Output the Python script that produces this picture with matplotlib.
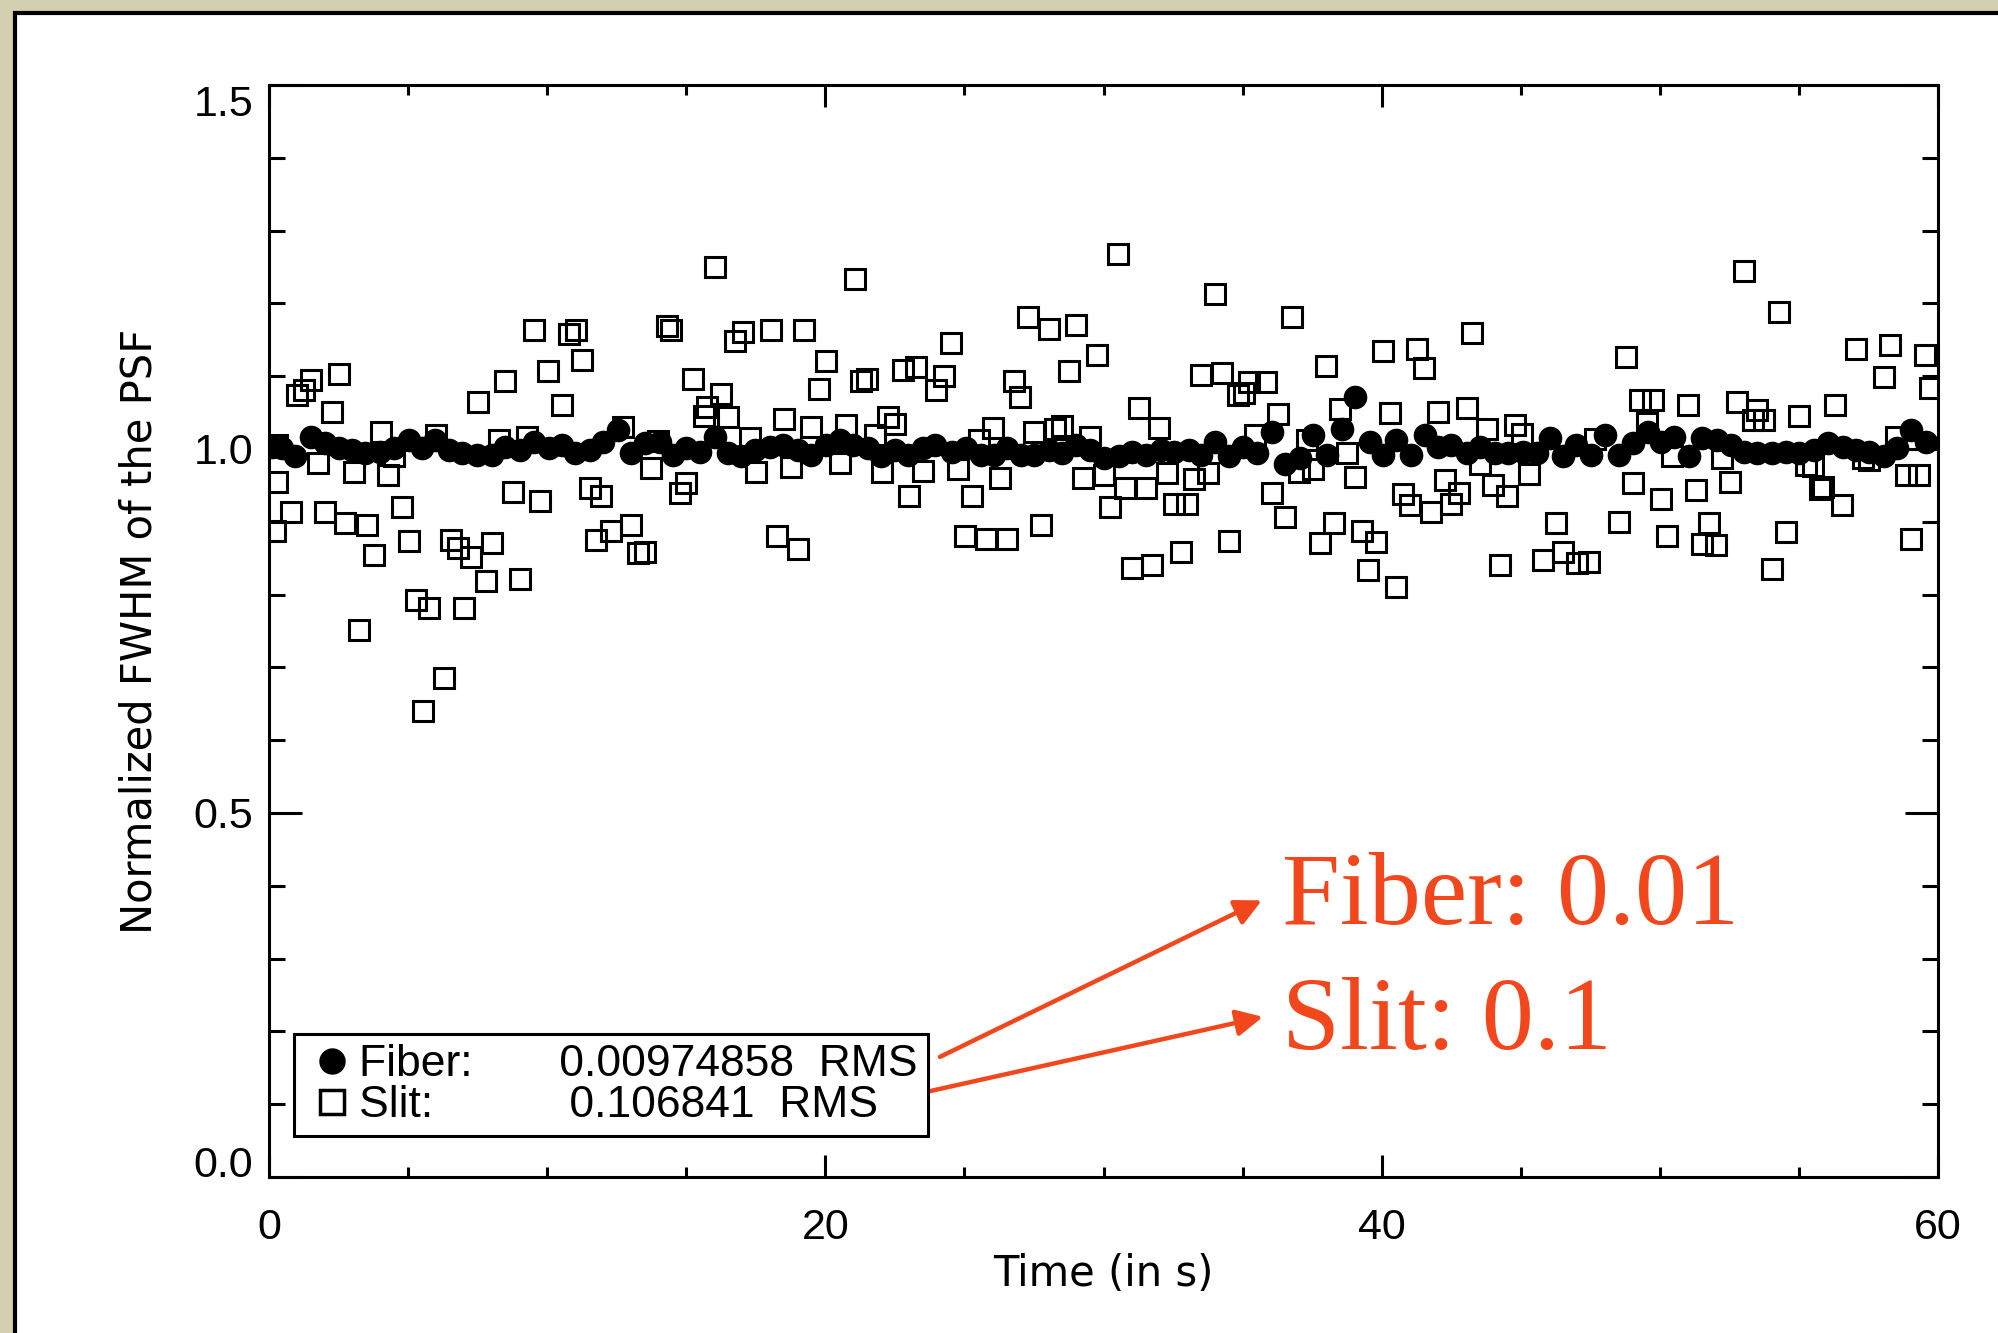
import matplotlib
matplotlib.use("Agg")
import matplotlib.pyplot as plt
from matplotlib.lines import Line2D
from matplotlib.patches import Rectangle
from matplotlib.ticker import MultipleLocator, FormatStrFormatter

# fiber PSF width, normalized (filled circles)
fiber_t = [0.11, 0.47, 0.95, 1.52, 2.02, 2.50, 2.98, 3.46, 4.00, 4.48, 5.02, 5.50,
           5.98, 6.46, 6.94, 7.48, 8.02, 8.50, 9.03, 9.51, 10.05, 10.53, 11.01, 11.55,
           12.00, 12.54, 13.02, 13.50, 14.04, 14.52, 15.00, 15.48, 16.02, 16.50, 16.98, 17.46,
           18.00, 18.48, 19.00, 19.49, 20.03, 20.51, 20.99, 21.53, 22.01, 22.49, 22.97, 23.51,
           23.93, 24.56, 25.04, 25.58, 26.06, 26.54, 27.02, 27.49, 28.03, 28.51, 29.00, 29.53,
           30.01, 30.55, 31.03, 31.51, 32.05, 32.53, 33.07, 33.49, 34.02, 34.50, 35.00, 35.52,
           36.06, 36.52, 37.06, 37.54, 38.02, 38.56, 39.04, 39.57, 40.05, 40.53, 41.07, 41.55,
           42.03, 42.51, 43.05, 43.53, 44.07, 44.55, 45.09, 45.57, 46.04, 46.52, 47.00, 47.54,
           48.02, 48.54, 49.02, 49.56, 50.04, 50.52, 51.06, 51.53, 52.07, 52.55, 53.03, 53.51,
           54.05, 54.53, 55.01, 55.55, 56.03, 56.57, 57.05, 57.53, 58.06, 58.54, 59.02, 59.56]
fiber_v = [1.003, 1.001, 0.990, 1.017, 1.008, 1.002, 0.998, 0.994, 0.996, 1.001, 1.012, 1.001,
           1.012, 0.999, 0.994, 0.992, 0.992, 1.003, 0.999, 1.010, 1.001, 1.006, 0.994, 0.999,
           1.010, 1.026, 0.994, 1.008, 1.010, 0.992, 1.001, 0.996, 1.017, 0.994, 0.990, 0.999,
           1.003, 1.006, 0.999, 0.992, 1.006, 1.012, 1.006, 1.001, 0.990, 0.999, 0.992, 1.001,
           1.006, 0.996, 1.001, 0.992, 0.992, 1.001, 0.992, 0.992, 0.999, 0.994, 1.006, 0.999,
           0.987, 0.990, 0.996, 0.992, 0.999, 0.996, 0.999, 0.992, 1.010, 0.990, 1.003, 0.994,
           1.024, 0.980, 0.987, 1.019, 0.992, 1.028, 1.071, 1.010, 0.992, 1.012, 0.992, 1.019,
           1.003, 1.006, 0.994, 1.003, 0.994, 0.994, 0.996, 0.994, 1.015, 0.990, 1.006, 0.992,
           1.019, 0.992, 1.008, 1.024, 1.010, 1.017, 0.990, 1.015, 1.012, 1.006, 0.996, 0.994,
           0.994, 0.996, 0.994, 0.999, 1.008, 1.003, 0.999, 0.996, 0.990, 1.001, 1.026, 1.010]

# slit PSF width, normalized (open squares)
slit_t = [0.20, 0.29, 0.30, 0.78, 1.01, 1.25, 1.52, 1.77, 2.02, 2.26, 2.52, 2.75,
          3.05, 3.25, 3.53, 3.77, 4.01, 4.27, 4.48, 4.78, 5.02, 5.27, 5.52, 5.74,
          6.00, 6.28, 6.53, 6.78, 7.01, 7.26, 7.53, 7.79, 8.02, 8.28, 8.50, 8.76,
          9.02, 9.27, 9.52, 9.76, 10.02, 10.52, 10.80, 11.03, 11.27, 11.53, 11.77, 11.95,
          12.28, 12.74, 13.02, 13.26, 13.50, 13.74, 13.98, 14.30, 14.46, 14.78, 15.00, 15.26,
          15.63, 15.74, 16.02, 16.26, 16.50, 16.76, 17.04, 17.28, 17.52, 18.04, 18.28, 18.53,
          18.78, 19.02, 19.25, 19.49, 19.79, 20.02, 20.53, 20.74, 21.07, 21.29, 21.48, 21.77,
          22.03, 22.25, 22.49, 22.78, 23.01, 23.25, 23.51, 23.99, 24.28, 24.53, 24.77, 25.03,
          25.26, 25.54, 25.76, 26.02, 26.29, 26.53, 26.77, 27.01, 27.28, 27.49, 27.76, 28.03,
          28.27, 28.50, 28.75, 29.02, 29.25, 29.52, 29.75, 30.01, 30.24, 30.51, 30.78, 31.03,
          31.27, 31.52, 31.76, 32.01, 32.29, 32.55, 32.77, 33.01, 33.25, 33.50, 33.76, 34.02,
          34.25, 34.51, 34.82, 35.04, 35.24, 35.46, 35.85, 36.05, 36.26, 36.53, 36.77, 37.04,
          37.30, 37.52, 37.77, 38.01, 38.27, 38.51, 38.76, 39.03, 39.28, 39.52, 39.78, 40.03,
          40.29, 40.52, 40.77, 41.02, 41.27, 41.51, 41.77, 42.03, 42.28, 42.51, 42.79, 43.05,
          43.26, 43.53, 43.78, 44.02, 44.26, 44.52, 44.78, 45.04, 45.29, 45.79, 46.27, 46.53,
          47.04, 47.46, 47.68, 48.54, 48.78, 49.02, 49.27, 49.53, 49.75, 50.04, 50.27, 50.45,
          51.03, 51.29, 51.52, 51.77, 52.01, 52.25, 52.53, 52.79, 53.02, 53.35, 53.50, 53.75,
          54.03, 54.29, 54.53, 55.02, 55.27, 55.50, 55.74, 55.85, 56.28, 56.56, 57.04, 57.30,
          57.53, 58.05, 58.28, 58.48, 58.84, 59.02, 59.32, 59.55, 59.70]
slit_v = [0.887, 0.954, 1.006, 0.913, 1.074, 1.081, 1.095, 0.981, 0.913, 1.051, 1.103, 0.898,
          0.969, 0.751, 0.896, 0.854, 1.023, 0.964, 0.990, 0.921, 0.873, 0.792, 0.640, 0.781,
          1.019, 0.685, 0.875, 0.864, 0.782, 0.852, 1.065, 0.818, 0.871, 1.012, 1.094, 0.941,
          0.822, 1.017, 1.163, 0.928, 1.107, 1.061, 1.158, 1.163, 1.122, 0.946, 0.875, 0.935,
          0.888, 1.030, 0.896, 0.857, 0.859, 0.974, 1.011, 1.169, 1.164, 0.940, 0.953, 1.096,
          1.046, 1.058, 1.250, 1.075, 1.044, 1.148, 1.161, 1.015, 0.968, 1.164, 0.880, 1.041,
          0.975, 0.862, 1.163, 1.030, 1.082, 1.121, 0.981, 1.033, 1.234, 1.093, 1.096, 1.019,
          0.968, 1.044, 1.035, 1.109, 0.935, 1.113, 0.970, 1.081, 1.100, 1.146, 0.973, 0.880,
          0.936, 1.012, 0.876, 1.029, 0.960, 0.877, 1.094, 1.071, 1.181, 1.024, 0.896, 1.165,
          1.028, 1.031, 1.107, 1.170, 0.960, 1.016, 1.129, 0.964, 0.920, 1.268, 0.947, 0.836,
          1.056, 0.947, 0.841, 1.029, 0.967, 0.925, 0.859, 0.925, 0.959, 1.102, 0.967, 1.213,
          1.104, 0.873, 1.074, 1.077, 1.092, 1.019, 1.092, 0.939, 1.048, 0.907, 1.181, 0.968,
          1.012, 0.972, 0.871, 1.114, 0.899, 1.055, 0.995, 0.961, 0.887, 0.834, 0.872, 1.135,
          1.049, 0.811, 0.938, 0.923, 1.137, 1.111, 0.913, 1.051, 0.958, 0.925, 0.940, 1.056,
          1.160, 0.980, 1.028, 0.951, 0.840, 0.935, 1.033, 1.020, 0.965, 0.847, 0.899, 0.858,
          0.843, 0.845, 1.014, 0.900, 1.127, 0.953, 1.067, 1.036, 1.067, 0.932, 0.880, 0.990,
          1.060, 0.944, 0.869, 0.898, 0.868, 0.988, 0.955, 1.065, 1.245, 1.040, 1.053, 1.040,
          0.835, 1.188, 0.886, 1.046, 0.978, 0.976, 0.945, 0.948, 1.060, 0.923, 1.137, 0.988,
          0.985, 1.099, 1.143, 1.017, 0.964, 0.877, 0.964, 1.129, 1.084]

legend_names = ["Fiber:", "Slit:"]
legend_rms = ["0.00974858", "0.106841"]
legend_gaps = [7, 11]
callouts = ["Fiber: 0.01", "Slit: 0.1"]

red = "#f2471c"
sans = "Liberation Sans"

fig = plt.figure(figsize=(19.98, 13.33), dpi=100)
fig.patch.set_facecolor("#d3d0b2")

# white slide panel behind the plot
panel = Rectangle((15 / 1998, -0.01), 1.1, 1.0, transform=fig.transFigure,
                  facecolor="white", edgecolor="black", linewidth=3, zorder=-10)
fig.patches.append(panel)

ax = fig.add_axes([269 / 1998, 1 - 1177 / 1333, 1669 / 1998, 1092 / 1333])
ax.set_facecolor("white")

ax.plot(slit_t, slit_v, "s", mfc="none", mec="black", mew=2.2, ms=15, zorder=2)
ax.plot(fiber_t, fiber_v, "o", color="black", ms=16, zorder=3)

ax.set_xlim(0, 60)
ax.set_ylim(0, 1.5)
ax.xaxis.set_major_locator(MultipleLocator(20))
ax.xaxis.set_minor_locator(MultipleLocator(5))
ax.yaxis.set_major_locator(MultipleLocator(0.5))
ax.yaxis.set_minor_locator(MultipleLocator(0.1))
ax.yaxis.set_major_formatter(FormatStrFormatter("%.1f"))

for s in ax.spines.values():
    s.set_linewidth(2.2)
ax.tick_params(which="both", direction="in", top=True, right=True, width=2.2,
               labelsize=31)
ax.tick_params(axis="x", which="major", length=15.8, pad=22)
ax.tick_params(axis="x", which="minor", length=7.2)
ax.tick_params(axis="y", which="major", length=23.8, pad=11.5)
ax.tick_params(axis="y", which="minor", length=11.5)

ax.set_xlabel("Time (in s)", fontsize=30, fontfamily="DejaVu Sans")
ax.set_ylabel("Normalized FWHM of the PSF", fontsize=30, fontfamily="DejaVu Sans")
ax.xaxis.set_label_coords(0.5, -0.0888)
ax.xaxis.label.set_va("center")
ax.yaxis.set_label_coords(-0.0773, 0.5)
ax.yaxis.label.set_va("center")

fig.canvas.draw()
for lab in ax.get_xticklabels() + ax.get_yticklabels():
    lab.set_fontfamily(sans)
    # end labels sit inside the axis range, as in the original
    if lab.get_text() == "0.0":
        lab.set_va("baseline")
    elif lab.get_text() == "1.5":
        lab.set_va("top")

handles = [Line2D([], [], ls="none", marker="o", color="black", ms=18),
           Line2D([], [], ls="none", marker="s", mfc="none", mec="black", mew=2.5, ms=17)]
labels = [n + " " * g + r + "  RMS" for n, r, g in zip(legend_names, legend_rms, legend_gaps)]
leg = ax.legend(handles, labels, loc="lower left", bbox_to_anchor=(0.015, 0.0375),
                borderaxespad=0, fancybox=False, framealpha=1, edgecolor="black",
                prop={"family": sans, "size": 32}, handlelength=1.29, handletextpad=-0.04,
                borderpad=0.22, labelspacing=0.0)
leg.get_frame().set_linewidth(2.2)
leg.set_zorder(5)

# red call-outs pointing at the legend values
arrow_start = [(24.12, 0.165), (22.65, 0.1085)]
arrow_tip = [(35.69, 0.380), (35.73, 0.220)]
text_pos = [(36.41, 0.3475), (36.41, 0.176)]
for txt, s0, s1, p in zip(callouts, arrow_start, arrow_tip, text_pos):
    ax.annotate("", xy=s1, xytext=s0,
                arrowprops=dict(arrowstyle="-|>", color=red, lw=3.2,
                                mutation_scale=40, shrinkA=0, shrinkB=0))
    ax.text(p[0], p[1], txt, color=red, fontsize=75, fontfamily="Liberation Serif",
            ha="left", va="baseline")

fig.savefig("out.png", dpi=100, facecolor=fig.get_facecolor())
